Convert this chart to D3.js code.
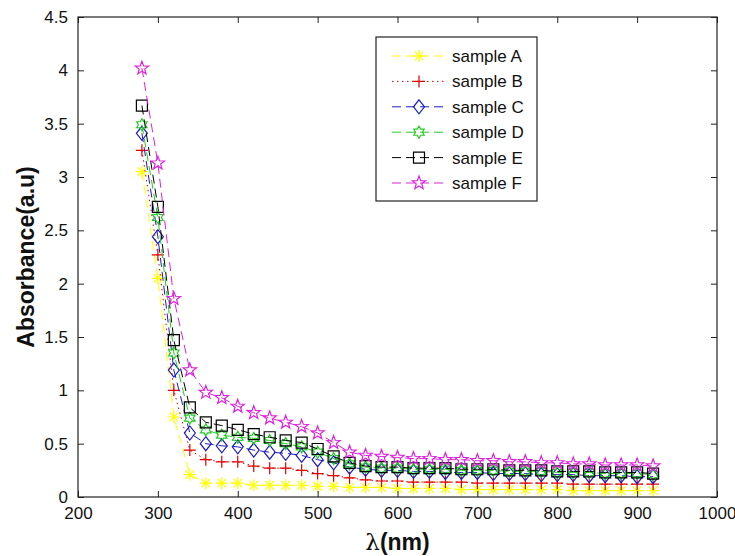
<!DOCTYPE html>
<html>
<head>
<meta charset="utf-8">
<script src="https://cdn.jsdelivr.net/npm/d3@7"></script>
<style>
  html, body { margin: 0; padding: 0; background: #fff; }
  svg { display: block; }
  text { font-family: "Liberation Sans", Arial, sans-serif; fill: #111; }
</style>
</head>
<body>
<script>
// ---- data ----
const wavelengths = [280,300,320,340,360,380,400,420,440,460,480,500,520,540,560,580,600,
  620,640,660,680,700,720,740,760,780,800,820,840,860,880,900,920];
const sampleA = [3.05,2.05,0.75,0.21,0.13,0.13,0.13,0.11,0.11,0.11,0.11,0.10,0.10,0.09,0.09,0.09,0.08,
  0.08,0.08,0.08,0.07,0.07,0.07,0.07,0.07,0.07,0.07,0.06,0.06,0.06,0.06,0.06,0.06];
const sampleB = [3.25,2.27,1.00,0.44,0.35,0.33,0.33,0.29,0.27,0.27,0.25,0.22,0.20,0.18,0.16,0.15,0.15,
  0.14,0.14,0.14,0.14,0.13,0.13,0.13,0.13,0.13,0.13,0.12,0.12,0.12,0.12,0.12,0.12];
const sampleC = [3.41,2.44,1.19,0.60,0.50,0.48,0.47,0.44,0.42,0.41,0.39,0.35,0.32,0.28,0.26,0.25,0.25,
  0.24,0.24,0.23,0.23,0.23,0.22,0.22,0.22,0.21,0.21,0.21,0.20,0.20,0.20,0.19,0.19];
const sampleD = [3.49,2.62,1.35,0.74,0.63,0.58,0.56,0.55,0.53,0.50,0.47,0.42,0.36,0.31,0.28,0.27,0.27,
  0.26,0.26,0.26,0.25,0.25,0.25,0.24,0.24,0.24,0.23,0.23,0.23,0.22,0.22,0.22,0.21];
const sampleE = [3.67,2.72,1.47,0.84,0.70,0.67,0.63,0.59,0.56,0.53,0.51,0.45,0.38,0.32,0.29,0.28,0.28,
  0.27,0.27,0.27,0.26,0.26,0.26,0.25,0.25,0.25,0.24,0.24,0.24,0.23,0.23,0.23,0.22];
const sampleF = [4.02,3.13,1.86,1.19,0.98,0.93,0.85,0.79,0.74,0.70,0.66,0.60,0.51,0.42,0.39,0.38,0.37,
  0.36,0.36,0.35,0.35,0.34,0.34,0.33,0.33,0.32,0.32,0.31,0.31,0.30,0.30,0.30,0.29];
const seriesNames = ["sample A","sample B","sample C","sample D","sample E","sample F"];
const xTicks = [200,300,400,500,600,700,800,900,1000];
const yTicks = [0,0.5,1,1.5,2,2.5,3,3.5,4,4.5];

// ---- styling ----
const styles = [
  {color:"#ffff00", dash:"9,5",   marker:"asterisk"},
  {color:"#e00000", dash:"1.5,3.5", marker:"plus"},
  {color:"#1c1cc0", dash:"9,5",   marker:"diamond"},
  {color:"#22cc22", dash:"9,5",   marker:"hexagram"},
  {color:"#000000", dash:"9,5",   marker:"square"},
  {color:"#dd22dd", dash:"9,5",   marker:"pentagram"}
];
const seriesValues = [sampleA,sampleB,sampleC,sampleD,sampleE,sampleF];

const W = 735, H = 556;
const m = {left:78, right:18, top:17, bottom:59};
const svg = d3.select("body").append("svg").attr("width",W).attr("height",H);
const x = d3.scaleLinear().domain([200,1000]).range([m.left, W-m.right]);
const y = d3.scaleLinear().domain([0,4.5]).range([H-m.bottom, m.top]);

function starPath(n, R, r){
  const pts=[];
  for(let i=0;i<2*n;i++){
    const a = -Math.PI/2 + i*Math.PI/n;
    const rr = i%2===0?R:r;
    pts.push([rr*Math.cos(a), rr*Math.sin(a)]);
  }
  return "M"+pts.map(p=>p[0].toFixed(2)+","+p[1].toFixed(2)).join("L")+"Z";
}
function markerPath(type){
  switch(type){
    case "plus": return "M-6,0H6M0,-6V6";
    case "asterisk": return "M-6,0H6M0,-6V6M-4.3,-4.3L4.3,4.3M-4.3,4.3L4.3,-4.3";
    case "diamond": return "M0,-7L5.5,0L0,7L-5.5,0Z";
    case "square": return "M-5.5,-5.5H5.5V5.5H-5.5Z";
    case "pentagram": return starPath(5, 7, 2.9);
    case "hexagram": return starPath(6, 6, 3.5);
  }
}

// ---- axes box ----
const plot = svg.append("g");
seriesValues.forEach((vals,i)=>{
  const st = styles[i];
  const data = wavelengths.map((w,j)=>[w, vals[j]]);
  plot.append("path").datum(data)
    .attr("fill","none").attr("stroke",st.color).attr("stroke-width",1)
    .attr("stroke-dasharray",st.dash)
    .attr("d", d3.line().x(d=>x(d[0])).y(d=>y(d[1])));
  plot.selectAll(null).data(data).enter().append("path")
    .attr("transform",d=>`translate(${x(d[0])},${y(d[1])})`)
    .attr("d", markerPath(st.marker))
    .attr("fill","none").attr("stroke",st.color).attr("stroke-width",1.2);
});

const box = svg.append("g");
box.append("rect").attr("x",m.left).attr("y",m.top)
  .attr("width",W-m.left-m.right).attr("height",H-m.top-m.bottom)
  .attr("fill","none").attr("stroke","#222").attr("stroke-width",1.2);

const tickLen = 6;
const xAxisB = d3.axisBottom(x).tickValues(xTicks).tickSizeInner(-tickLen).tickSizeOuter(0).tickPadding(10).tickFormat(d3.format("d"));
const xAxisT = d3.axisTop(x).tickValues(xTicks).tickSizeInner(-tickLen).tickSizeOuter(0).tickFormat("");
const yAxisL = d3.axisLeft(y).tickValues(yTicks).tickSizeInner(-tickLen).tickSizeOuter(0).tickPadding(10).tickFormat(d=>d3.format("")(d));
const yAxisR = d3.axisRight(y).tickValues(yTicks).tickSizeInner(-tickLen).tickSizeOuter(0).tickFormat("");

function styleAxis(g){
  g.select(".domain").remove();
  g.selectAll(".tick line").attr("stroke","#222");
  g.selectAll("text").attr("font-size",17).attr("font-family","Liberation Sans, Arial, sans-serif").attr("fill","#222");
}
box.append("g").attr("transform",`translate(0,${H-m.bottom})`).call(xAxisB).call(styleAxis);
box.append("g").attr("transform",`translate(0,${m.top})`).call(xAxisT).call(styleAxis);
box.append("g").attr("transform",`translate(${m.left},0)`).call(yAxisL).call(styleAxis);
box.append("g").attr("transform",`translate(${W-m.right},0)`).call(yAxisR).call(styleAxis);

// ---- axis labels ----
const xl = svg.append("text").attr("x",(m.left+W-m.right)/2).attr("y",H-6)
  .attr("text-anchor","middle").attr("font-size",23);
xl.append("tspan").attr("font-family","DejaVu Serif, serif").text("λ");
xl.append("tspan").attr("font-weight","bold").text("(nm)");

svg.append("text")
  .attr("transform",`translate(34,${(m.top+H-m.bottom)/2}) rotate(-90)`)
  .attr("text-anchor","middle").attr("font-size",23).attr("font-weight","bold")
  .text("Absorbance(a.u)");

// ---- legend ----
const lg = svg.append("g");
lg.append("rect").attr("x",376).attr("y",37).attr("width",161).attr("height",164)
  .attr("fill","#fff").attr("stroke","#222").attr("stroke-width",1.2);
const rowY = d3.scalePoint().domain(seriesNames).range([56,183]);
seriesNames.forEach((name,i)=>{
  const st = styles[i];
  const yy = rowY(name);
  lg.append("line").attr("x1",392).attr("x2",447).attr("y1",yy).attr("y2",yy)
    .attr("stroke",st.color).attr("stroke-width",1).attr("stroke-dasharray",st.dash);
  lg.append("path").attr("transform",`translate(419,${yy})`).attr("d",markerPath(st.marker))
    .attr("fill","none").attr("stroke",st.color).attr("stroke-width",1.2);
  lg.append("text").attr("x",452).attr("y",yy+6).attr("font-size",17).text(name);
});
</script>
</body>
</html>
